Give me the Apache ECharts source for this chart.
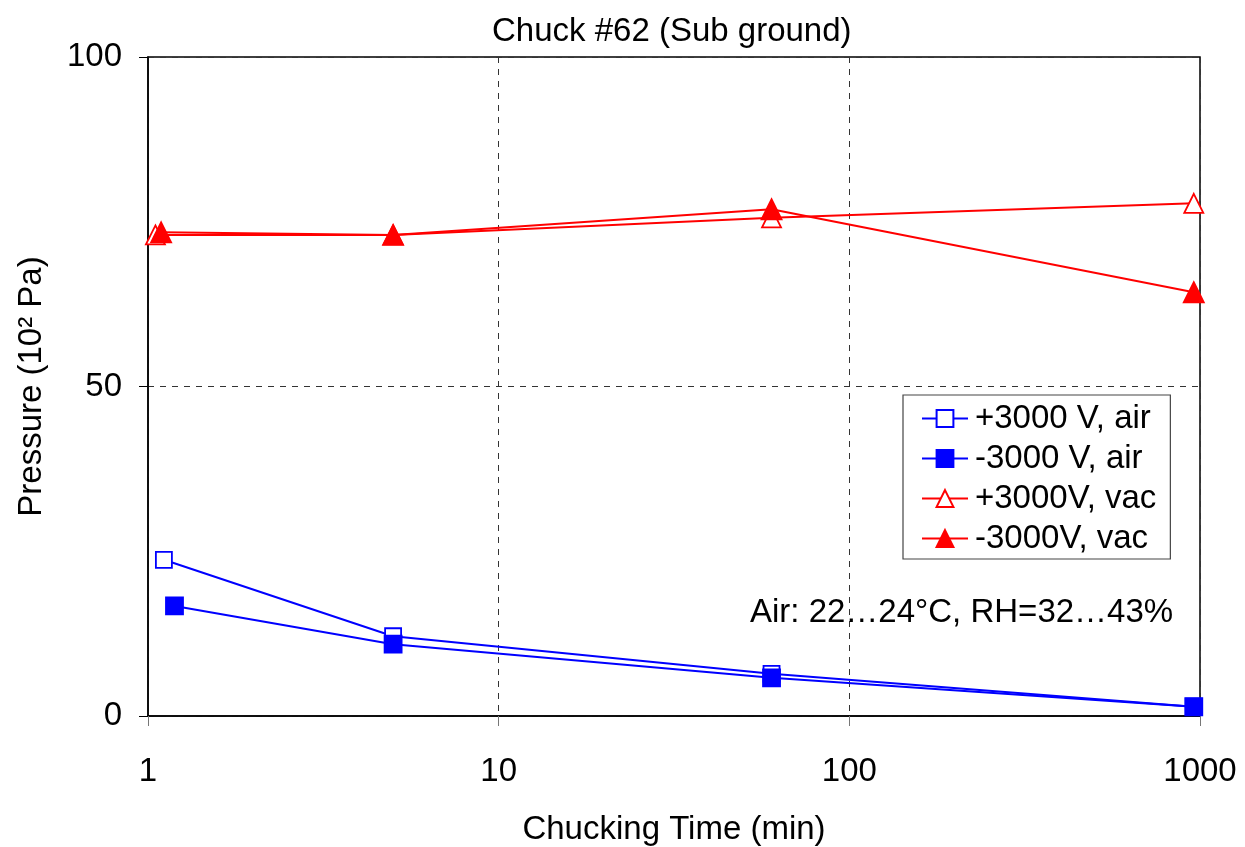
<!DOCTYPE html>
<html><head><meta charset="utf-8">
<script src="https://cdn.jsdelivr.net/npm/echarts@6/dist/echarts.min.js"></script>
<style>html,body{margin:0;padding:0;background:#fff}#c{width:1245px;height:847px}</style>
</head><body><div id="c"></div>
<script>
const seriesNames = ['+3000 V, air', '-3000 V, air', '+3000V, vac', '-3000V, vac'];
const timePosAir = [1.11, 5, 60, 960];
const pressPosAir = [23.7, 12.1, 6.4, 1.4];
const timeNegAir = [1.19, 5, 60, 960];
const pressNegAir = [16.7, 10.9, 5.8, 1.4];
const timePosVac = [1.05, 5, 60, 960];
const pressPosVac = [73.0, 73.0, 75.6, 77.8];
const timeNegVac = [1.09, 5, 60, 960];
const pressNegVac = [73.4, 73.0, 76.9, 64.3];
const xTicks = [1, 10, 100, 1000];
const yTicks = [0, 50, 100];

const FONT = 'Liberation Sans';
const FS = 33;
const zip = (a, b) => a.map((v, i) => [v, b[i]]);
const blue = '#0000ff', red = '#ff0000';

function mk(name, xs, ys, color, symbol, size, filled) {
  return {
    name, type: 'line', data: zip(xs, ys),
    symbol, symbolSize: size, showSymbol: true,
    lineStyle: { color, width: 2 },
    itemStyle: { color: filled ? color : '#fff', borderColor: color, borderWidth: 1.8 },
    emphasis: { disabled: true }, animation: false
  };
}

const chart = echarts.init(document.getElementById('c'), null, { renderer: 'canvas' });
chart.setOption({
  backgroundColor: '#fff',
  animation: false,
  title: { text: 'Chuck #62 (Sub ground)', left: 487, top: 10,
    textStyle: { fontFamily: FONT, fontSize: FS, fontWeight: 'normal', color: '#000' } },
  grid: { left: 148, right: 45, top: 57, bottom: 131, containLabel: false, outerBoundsMode: 'none',
    show: true, borderColor: '#000', borderWidth: 1.5 },
  xAxis: {
    type: 'log', logBase: 10, min: 1, max: 1000,
    name: 'Chucking Time (min)', nameLocation: 'middle', nameGap: 97,
    nameTextStyle: { fontFamily: FONT, fontSize: FS, color: '#000' },
    axisLine: { show: true, onZero: false, lineStyle: { color: '#000', width: 1.5 } },
    axisTick: { show: true, length: 10, lineStyle: { color: '#777' } },
    minorTick: { show: false },
    axisLabel: { fontFamily: FONT, fontSize: FS, color: '#000', margin: 39,
      formatter: v => xTicks.includes(Math.round(v)) ? String(Math.round(v)) : '' },
    splitLine: { show: true, lineStyle: { color: '#333', type: [6, 6], width: 1 } }
  },
  yAxis: {
    type: 'value', min: 0, max: 100, interval: 50,
    name: 'Pressure (10² Pa)', nameLocation: 'middle', nameGap: 100,
    nameTextStyle: { fontFamily: FONT, fontSize: FS, color: '#000' },
    axisLine: { show: true, lineStyle: { color: '#000', width: 1.5 } },
    axisTick: { show: true, length: 9, lineStyle: { color: '#000' } },
    axisLabel: { fontFamily: FONT, fontSize: FS, color: '#000', margin: 26, padding: [10, 0, 0, 0],
      formatter: v => yTicks.includes(v) ? String(v) : '' },
    splitLine: { show: true, lineStyle: { color: '#333', type: [6, 6], width: 1 } }
  },
  legend: {
    orient: 'vertical', left: 903, top: 395,
    data: seriesNames,
    itemWidth: 46, itemHeight: 21, itemGap: 7,
    borderColor: '#444', borderWidth: 1.2, padding: [7, 14, 4, 18],
    textStyle: { fontFamily: FONT, fontSize: FS, color: '#000', padding: [0, 0, 0, 2] },
    backgroundColor: '#fff'
  },
  graphic: [{
    type: 'text', left: 750, top: 596,
    style: { text: 'Air: 22…24°C, RH=32…43%', font: FS + 'px "Liberation Sans"', fill: '#000' }
  }],
  series: [
    mk(seriesNames[0], timePosAir, pressPosAir, blue, 'rect', 16, false),
    mk(seriesNames[1], timeNegAir, pressNegAir, blue, 'rect', 17, true),
    mk(seriesNames[2], timePosVac, pressPosVac, red, 'triangle', 19, false),
    mk(seriesNames[3], timeNegVac, pressNegVac, red, 'triangle', 20, true)
  ]
});
</script></body></html>
